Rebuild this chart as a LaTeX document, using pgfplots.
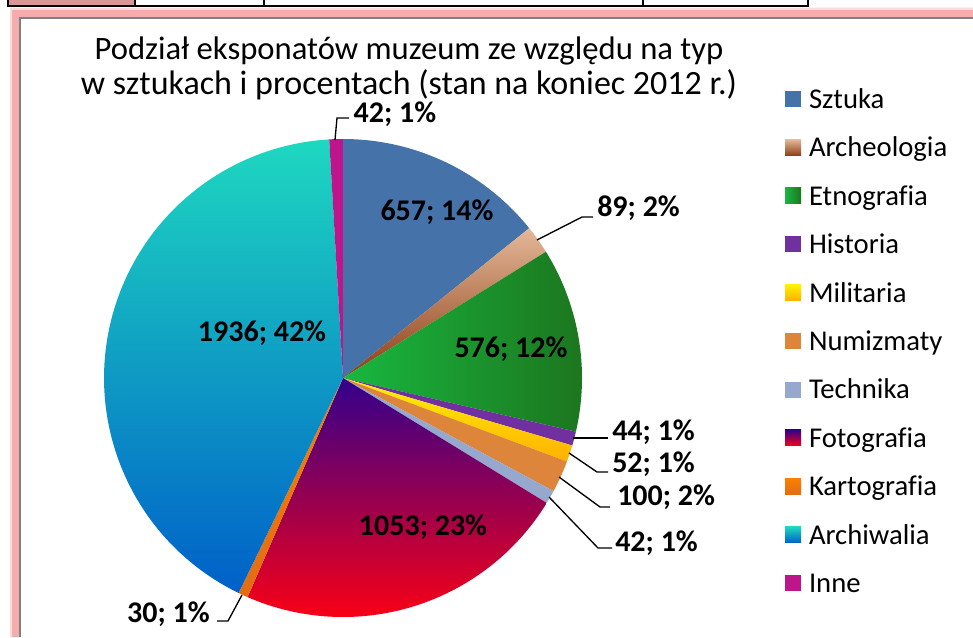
\documentclass[border=0pt]{standalone}
\usepackage{pgfplots}
\pgfplotsset{compat=1.18}
\usepackage{fontspec}
\setmainfont{Carlito}[Ligatures=NoCommon]
\newfontfamily\titlefont{Carlito}[Ligatures=NoCommon]

\definecolor{cSzt}{RGB}{70,114,170}
\definecolor{cArchA}{RGB}{228,184,152}
\definecolor{cArchB}{RGB}{140,62,22}
\definecolor{cEtnA}{RGB}{24,184,64}
\definecolor{cEtnB}{RGB}{28,118,30}
\definecolor{cHis}{RGB}{112,48,160}
\definecolor{cMilA}{RGB}{255,242,0}
\definecolor{cMilB}{RGB}{255,176,0}
\definecolor{cNum}{RGB}{222,133,60}
\definecolor{cTech}{RGB}{150,168,206}
\definecolor{cFotA}{RGB}{50,0,140}
\definecolor{cFotM}{RGB}{205,0,95}
\definecolor{cFotB}{RGB}{248,0,22}
\definecolor{cKarA}{RGB}{250,128,0}
\definecolor{cKarB}{RGB}{226,108,20}
\definecolor{cArwA}{RGB}{30,216,192}
\definecolor{cArwM}{RGB}{38,204,234}
\definecolor{cArwB}{RGB}{0,96,200}
\definecolor{cInne}{RGB}{190,20,140}
\definecolor{framepink}{RGB}{244,172,172}
\definecolor{cellpink}{RGB}{218,150,150}

% values (pieces): Sztuka 657, Archeologia 89, Etnografia 576, Historia 44,
% Militaria 52, Numizmaty 100, Technika 42, Fotografia 1053, Kartografia 30,
% Archiwalia 1936, Inne 42  (total 4621)
\pgfmathsetmacro{\f}{360/4621}
\pgfmathsetmacro{\cA}{0}
\pgfmathsetmacro{\cB}{\cA+657}
\pgfmathsetmacro{\cC}{\cB+89}
\pgfmathsetmacro{\cD}{\cC+576}
\pgfmathsetmacro{\cE}{\cD+44}
\pgfmathsetmacro{\cF}{\cE+52}
\pgfmathsetmacro{\cG}{\cF+100}
\pgfmathsetmacro{\cH}{\cG+42}
\pgfmathsetmacro{\cI}{\cH+1053}
\pgfmathsetmacro{\cJ}{\cI+30}
\pgfmathsetmacro{\cK}{\cJ+1936}
\pgfmathsetmacro{\cL}{\cK+42}
\pgfmathsetmacro{\tA}{90-\f*\cA}
\pgfmathsetmacro{\tB}{90-\f*\cB}
\pgfmathsetmacro{\tC}{90-\f*\cC}
\pgfmathsetmacro{\tD}{90-\f*\cD}
\pgfmathsetmacro{\tE}{90-\f*\cE}
\pgfmathsetmacro{\tF}{90-\f*\cF}
\pgfmathsetmacro{\tG}{90-\f*\cG}
\pgfmathsetmacro{\tH}{90-\f*\cH}
\pgfmathsetmacro{\tI}{90-\f*\cI}
\pgfmathsetmacro{\tJ}{90-\f*\cJ}
\pgfmathsetmacro{\tK}{90-\f*\cK}
\pgfmathsetmacro{\tL}{90-\f*\cL}

\newcommand{\slice}[3]{%
  \addplot[draw=none, #1, domain=#2:#3] ({343+239*cos(\t)},{259+239*sin(\t)}) -- (axis cs:343,259) -- cycle;}

\begin{document}
\begin{tikzpicture}
\begin{axis}[
  name=ax,
  width=729.75pt, height=477.75pt, scale only axis,
  xmin=0, xmax=973, ymin=0, ymax=637,
  axis lines=none, clip=false,
  samples=90, variable=\t,
  legend cell align=left,
  legend style={at={(axis cs:785,552.5)}, anchor=north west, draw=none, fill=none,
    inner sep=0pt, outer sep=0pt, row sep=14.3pt, column sep=6pt,
    font=\fontsize{21.5}{25}\selectfont,
    nodes={inner sep=0pt, text height=18pt, text depth=4pt}},
  legend image code/.code={\fill[#1] (0pt,-6pt) rectangle (12pt,6pt);},
]
% frame and table strip
\fill[framepink] (axis cs:10,0) -- (axis cs:10,629) -- (axis cs:973,629) -- (axis cs:973,620) -- (axis cs:19,620) -- (axis cs:19,0) -- cycle;
\fill[framepink!45] (axis cs:10,0) -- (axis cs:10,629) -- (axis cs:973,629) -- (axis cs:973,627) -- (axis cs:12,627) -- (axis cs:12,0) -- cycle;
\draw[gray, line width=1.3pt] (axis cs:20,0) -- (axis cs:20,619) -- (axis cs:973,619);
\fill[cellpink] (axis cs:8,637) rectangle (axis cs:135,631);
\draw[black, line width=1.5pt] (axis cs:7,631) -- (axis cs:808,631);
\draw[black, line width=1.5pt] (axis cs:7.5,637) -- (axis cs:7.5,630);
\draw[black, line width=1.2pt] (axis cs:135,637) -- (axis cs:135,631);
\draw[black, line width=1.2pt] (axis cs:264,637) -- (axis cs:264,631);
\draw[black, line width=1.2pt] (axis cs:643,637) -- (axis cs:643,631);
\draw[black, line width=1.5pt] (axis cs:807.5,637) -- (axis cs:807.5,630);

% pie slices
\slice{fill=cSzt}{\tB}{\tA}
\addlegendentry{Sztuka}
\slice{top color=cArchA, middle color=cArchA!80!cArchB, bottom color=cArchB}{\tC}{\tB}
\addlegendentry{Archeologia}
\slice{left color=cEtnA, right color=cEtnB}{\tD}{\tC}
\addlegendentry{Etnografia}
\slice{fill=cHis}{\tE}{\tD}
\addlegendentry{Historia}
\slice{top color=cMilA, bottom color=cMilB}{\tF}{\tE}
\addlegendentry{Militaria}
\slice{fill=cNum}{\tG}{\tF}
\addlegendentry{Numizmaty}
\slice{fill=cTech}{\tH}{\tG}
\addlegendentry{Technika}
\slice{top color=cFotA, middle color=cFotM, bottom color=cFotB}{\tI}{\tH}
\addlegendentry{Fotografia}
\slice{top color=cKarA, bottom color=cKarB}{\tJ}{\tI}
\addlegendentry{Kartografia}
\slice{top color=cArwA, middle color=cArwM, bottom color=cArwB}{\tK}{\tJ}
\addlegendentry{Archiwalia}
\slice{fill=cInne}{\tL}{\tK}
\addlegendentry{Inne}

% title
\node[font=\titlefont\fontsize{24.5}{28}\selectfont, anchor=base] at (axis cs:409,578) {Podział eksponatów muzeum ze względu na typ};
\node[font=\titlefont\fontsize{25.5}{28}\selectfont, anchor=base] at (axis cs:409,543) {w sztukach i procentach (stan na koniec 2012 r.)};

% leader lines
\draw[black, line width=1pt] (axis cs:537,397) -- (axis cs:582,420) -- (axis cs:593,420);
\draw[black, line width=1pt] (axis cs:573,199) -- (axis cs:608,199);
\draw[black, line width=1pt] (axis cs:569,184) -- (axis cs:597,165) -- (axis cs:608,165);
\draw[black, line width=1pt] (axis cs:559,160) -- (axis cs:600,130) -- (axis cs:610,130);
\draw[black, line width=1pt] (axis cs:549,140) -- (axis cs:598,89) -- (axis cs:612,89);
\draw[black, line width=1pt] (axis cs:242,42) -- (axis cs:228,16) -- (axis cs:217,16);
\draw[black, line width=1pt] (axis cs:335,497) -- (axis cs:337,519) -- (axis cs:349,519);

% data labels
\tikzset{lab/.style={font=\bfseries\fontsize{22.5}{27}\selectfont, inner sep=0pt}}
\node[lab] at (axis cs:437,425) {657; 14\%};
\node[lab, anchor=west] at (axis cs:597,429) {89; 2\%};
\node[lab] at (axis cs:511,288) {576; 12\%};
\node[lab, anchor=west] at (axis cs:612,205) {44; 1\%};
\node[lab, anchor=west] at (axis cs:612,173) {52; 1\%};
\node[lab, anchor=west] at (axis cs:617,140) {100; 2\%};
\node[lab, anchor=west] at (axis cs:615,94) {42; 1\%};
\node[lab] at (axis cs:423,110) {1053; 23\%};
\node[lab, anchor=east] at (axis cs:210,23) {30; 1\%};
\node[lab] at (axis cs:262,304) {1936; 42\%};
\node[lab] at (axis cs:395,523) {42; 1\%};
\end{axis}
\pgfresetboundingbox
\path (ax.south west) rectangle (ax.north east);
\end{tikzpicture}
\end{document}
